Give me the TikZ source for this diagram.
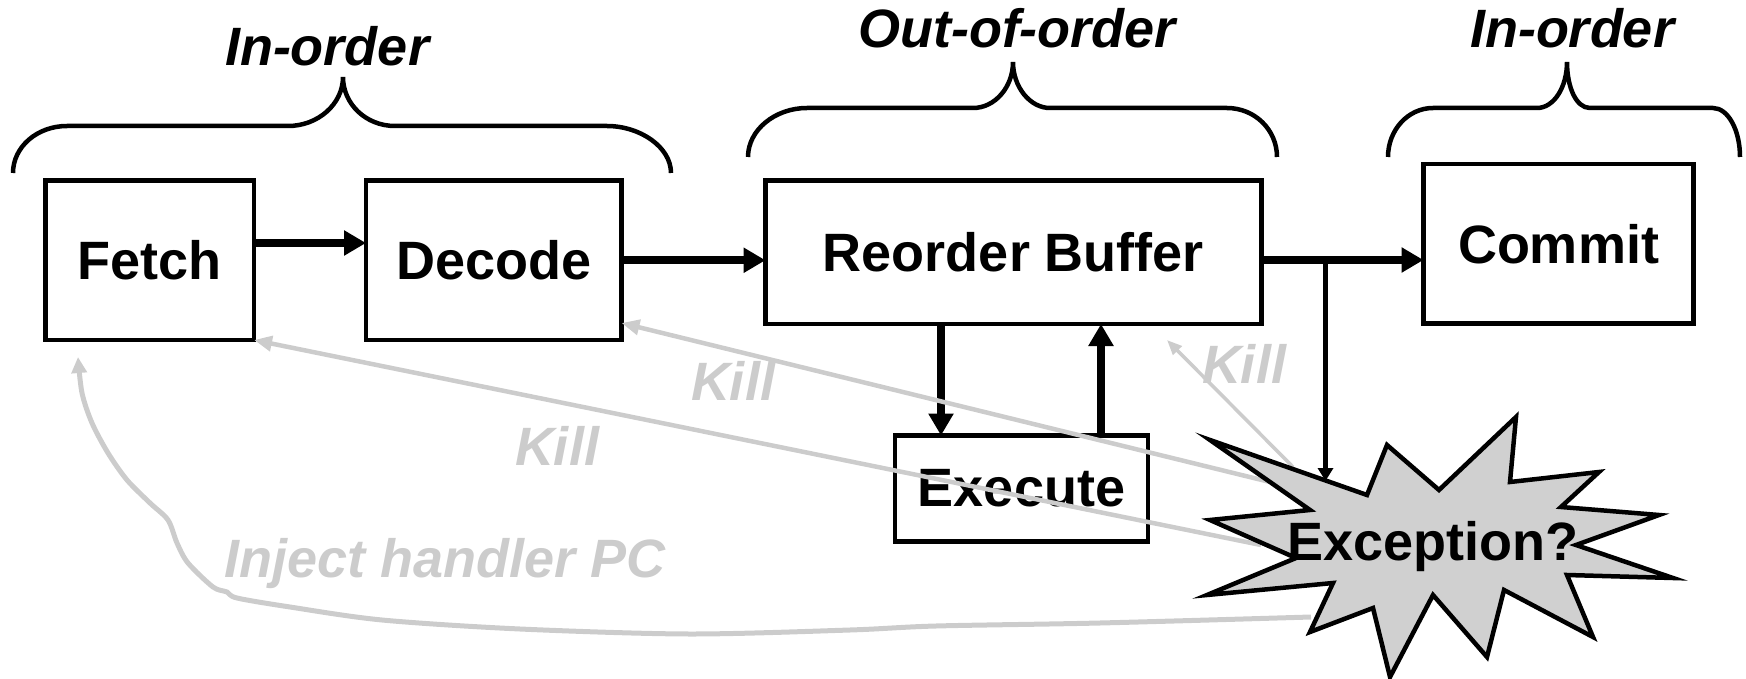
\documentclass[tikz,border=0pt]{standalone}
\usepackage{fontspec}
\setmainfont{Liberation Sans}
\usetikzlibrary{arrows.meta,calc}
\definecolor{lgray}{HTML}{CCCCCC}
\definecolor{sgray}{HTML}{D0D0D0}
\begin{document}
\begin{tikzpicture}[x=1pt,y=-1pt,
  every node/.style={font=\fontsize{54}{62}\selectfont\bfseries, inner sep=0pt, outer sep=0pt},
  box/.style={draw, line width=4.5pt},
  blk/.style={line width=8pt, -{Triangle[length=22pt,width=24pt]}},
  thinblk/.style={line width=5pt, -{Triangle[length=13pt,width=15pt]}},
  kill/.style={draw=lgray, line width=4.5pt, -{Triangle[length=18pt,width=15pt]}},
  killthin/.style={draw=lgray, line width=3.5pt, -{Triangle[length=15pt,width=12pt]}},
  inject/.style={draw=lgray, line width=5pt, -{Triangle[length=16pt,width=15pt]}},
  brace/.style={line width=4.5pt},
  lab/.style={font=\fontsize{54}{62}\selectfont\bfseries\itshape},
  killlab/.style={lab, text=lgray}
]
\useasboundingbox (0,0) rectangle (1746,679);

% braces
\draw[brace] (13,173) .. controls (13,147) and (37,126) .. (67,126) -- (288,126)
  .. controls (318,126) and (343,104) .. (343,77)
  .. controls (343,104) and (366,126) .. (395,126) -- (607,126)
  .. controls (640,126) and (671,147) .. (671,173);
\draw[brace] (748,157) .. controls (748,130) and (775,108) .. (807,108) -- (973,108)
  .. controls (995,108) and (1013,87) .. (1013,62)
  .. controls (1013,87) and (1030,108) .. (1050,108) -- (1227,108)
  .. controls (1255,108) and (1277,130) .. (1277,157);
\draw[brace] (1388,157) .. controls (1388,130) and (1408,108) .. (1433,108) -- (1537,108)
  .. controls (1554,108) and (1567,87) .. (1567,62)
  .. controls (1567,87) and (1576,108) .. (1590,108) -- (1713,108)
  .. controls (1728,108) and (1740,130) .. (1740,157);

\node[lab, anchor=base] (lblA) at (327,66) {In-order};
\node[lab, anchor=base] (lblB) at (1017,48) {Out-of-order};
\node[lab, anchor=base] (lblC) at (1572,48) {In-order};

% boxes
\node[box, minimum width=208.5pt, minimum height=159.5pt] (fetch) at (149.75,260.25) {Fetch};
\node[box, minimum width=255.5pt, minimum height=159.5pt] (decode) at (493.75,260.25) {Decode};
\node[box, minimum width=496pt, minimum height=143.5pt] (rob) at (1013.5,252.25) {Reorder Buffer};
\node[box, minimum width=270pt, minimum height=159.5pt] (commit) at (1558.5,243.75) {Commit};
\node[box, minimum width=253pt, minimum height=106pt] (exec) at (1021.5,488.5) {Execute};

% black arrows
\coordinate (robout) at ([yshift=-7.75pt]rob.east);
\draw[blk] ([yshift=17.25pt]fetch.east) -- ([yshift=17.25pt]decode.west);
\draw[blk] (decode.east) -- (rob.west |- decode.east);
\draw[blk] (robout) -- (commit.west |- robout);
\draw[blk] ([xshift=-80.5pt]exec.north |- rob.south) -- ([xshift=-80.5pt]exec.north);
\draw[blk] ([xshift=79.5pt]exec.north) -- ([xshift=79.5pt]exec.north |- rob.south);

% named points on the star
\coordinate (excD) at (1270,482);
\coordinate (excF) at (1261,545);
\coordinate (excR) at (1293,467);
\coordinate (excI) at (1311,617);
\coordinate (excB) at (1325.5,481);
\coordinate (br) at (1325.5,260);
\coordinate (killRtip) at (1167,340);
\coordinate (injtip) at (78,357);

% gray kill connectors
\draw[kill] (excD) -- ([yshift=17pt]decode.south east);
\draw[kill] (excF) -- (fetch.south east);
\draw[killthin] (excR) -- (killRtip);
\draw[inject] plot[smooth, tension=0.5] coordinates {(excI) (1100,623) (936,626) (850,630) (689,634) (520,629) (382,620) (290,607) (237,598) (227,592) (213,587) (188,563) (177,543) (168,520) (150,503) (127,480) (108,453) (92,423) (82,393) (injtip)};

\node[killlab, anchor=base] (killA) at (733,400) {Kill};
\node[killlab, anchor=base] (killB) at (557,465) {Kill};
\node[killlab, anchor=base] (killC) at (1244,383) {Kill};
\node[killlab, anchor=base] (inj) at (445,577) {Inject handler PC};

% star
\draw[line width=4.5pt, fill=sgray, line join=miter]
  (1210,440) -- (1367,495) -- (1387,445) -- (1439,490) -- (1516,417) -- (1510,482)
  -- (1599,472) -- (1561,507) -- (1659,515) -- (1576,545) -- (1673,578) -- (1567,575)
  -- (1593,637) -- (1504,590) -- (1487,657) -- (1433,595) -- (1390,677) -- (1373,608)
  -- (1310,632) -- (1333,583) -- (1207,595) -- (1296,558) -- (1210,520) -- (1310,510) -- cycle;
\node[anchor=base] (exc) at (1433,560) {Exception?};

\draw[thinblk] (br) -- (excB);
\end{tikzpicture}
\end{document}
